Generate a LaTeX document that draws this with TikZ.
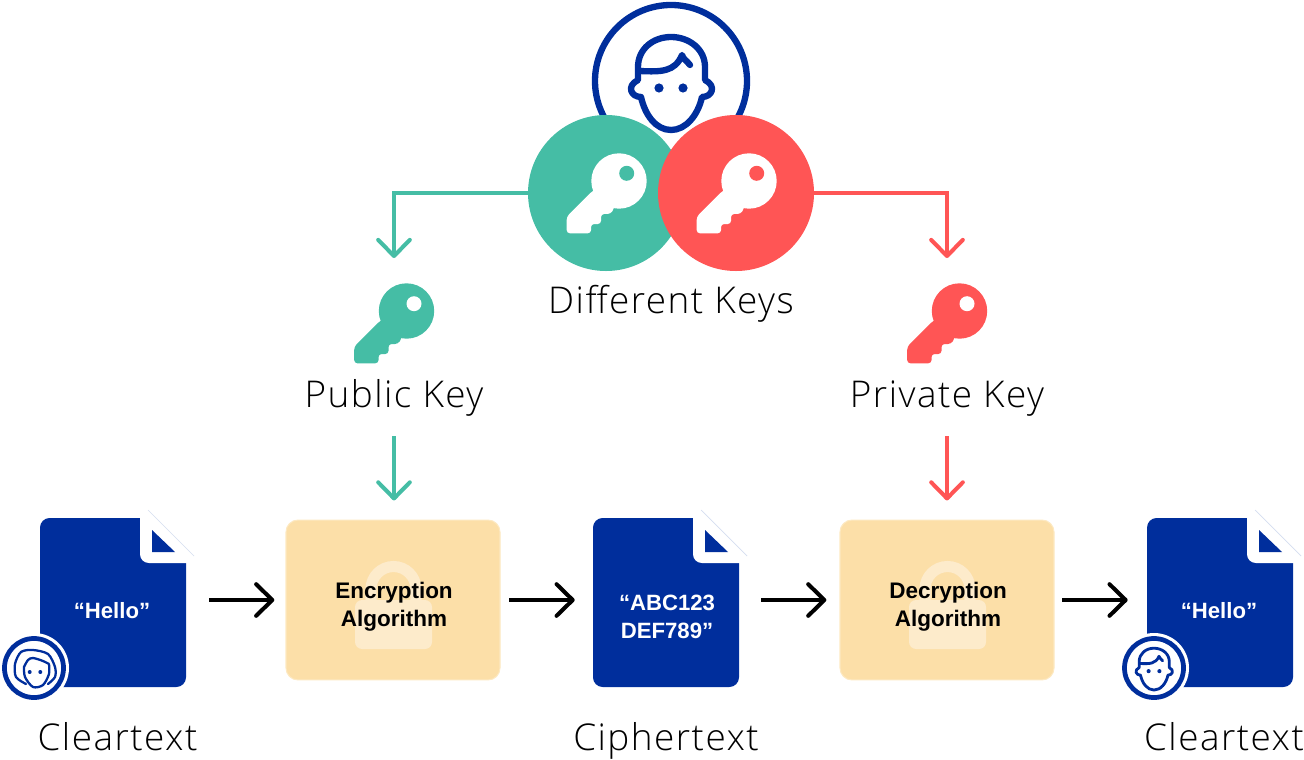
\documentclass[tikz,border=0pt]{standalone}
\usepackage{fontspec}
\setmainfont{Liberation Sans}
\newfontfamily\lblfont[LetterSpace=4]{Open Sans Light}
\usetikzlibrary{arrows.meta}
\definecolor{navy}{HTML}{002E9C}
\definecolor{teal}{HTML}{45BDA5}
\definecolor{coral}{HTML}{FF5555}
\definecolor{sand}{HTML}{FCDFA8}
\definecolor{sandlt}{HTML}{FDEBCB}
\definecolor{foldln}{HTML}{D5DDF0}
\pgfdeclarearrow{name=Chev,setup code={\pgfarrowssettipend{1.2pt}\pgfarrowssetlineend{0pt}\pgfarrowssavethe\pgfarrowlength},drawing code={\pgfsetdash{}{0pt}\pgfsetroundcap\pgfsetroundjoin\pgfpathmoveto{\pgfqpoint{-9.2pt}{9pt}}\pgfpathlineto{\pgfqpoint{0pt}{0pt}}\pgfpathlineto{\pgfqpoint{-9.2pt}{-9pt}}\pgfusepathqstroke},defaults={length=9pt}}
\tikzset{>=Chev,
flow/.style={line width=2.3pt,->},
lbl/.style={font=\lblfont\fontsize{21}{26}\selectfont,text height=19pt,text depth=4.6pt,inner sep=0pt,text=black},
algo/.style={fill=sand,draw=sand!70!white,line width=.6pt,rounded corners=6.8pt,minimum width=121.8pt,minimum height=91pt,inner sep=0pt},
doctxt/.style={font=\bfseries\fontsize{12.6}{16}\selectfont,text=white,align=center,inner sep=0pt},
docbox/.style={minimum width=83pt,minimum height=99pt,inner sep=0pt},
iconbox/.style={minimum width=46pt,minimum height=46pt,inner sep=0pt},
ring/.style={circle,fill=white,draw=navy,inner sep=0pt,line width=2.7pt,minimum size=33.6pt},
keydisc/.style={circle,inner sep=0pt,minimum size=88.8pt},
pics/keyshape/.style={code={
\fill[#1,rounded corners=1.8] (-26.3,9.7)--(-52.3,35.7)--(-52.3,52.3)--(-28,52.3)--(-28,43)--(-18,43)--(-18,33)--(-8.3,33)--(-5,27.3)--(0,0)--cycle;\fill[#1] (0,0) circle (27.7);}},
pics/boyface/.style={code={
\draw[navy,line width=#1,line join=round,line cap=round] (0,49)..controls (-15,49) and (-26,34)..(-30,16)..controls (-40,16) and (-45,5)..(-33,-1)--(-33,-14)..controls (-33,-32) and (-18,-44)..(0,-44)..controls (18,-44) and (34,-32)..(34,-14)--(34,-1)..controls (46,5) and (41,16)..(31,16)..controls (27,34) and (15,49)..(0,49)
(-31,-10)..controls (-10,-9) and (4,-9)..(11,-26)..controls (12,-22) and (16,-20)..(19,-16);
\fill[navy] (-12,7) circle (4.6) (12,7) circle (4.6);}},
pics/girlface/.style={code={
\draw[navy,line width=1.3pt,line cap=round,line join=round] plot[smooth] coordinates {(-8,16)(-18,9)(-19,-4)(-13,-16)(-1,-18)(14,-14)(21,-1)(21,9)(14,16)}
plot[smooth] coordinates {(-10,-1)(-9,9)(-1,19)(9,17)(15,6)(15,-4)}
plot[smooth] coordinates {(-10,-1)(-6,-8)(-1,-10)(9,-7)(15,-4)};
\fill[navy] (-4.3,4) circle (2) (6.3,4) circle (2);}}}
\begin{document}
\begin{tikzpicture}[x=.02cm,y=-.02cm]
\useasboundingbox (0,0) rectangle (1304,760);
\draw[navy,line width=3.6pt] (671,81) circle (76);
\pic at (671,81) {boyface=3.6pt};
\node[keydisc,fill=teal] (gdisc) at (606,193) {};\pic at (619,181) {keyshape=white};\fill[teal] (626.7,173.3) circle (7.5);
\node[keydisc,fill=coral] (rdisc) at (736,193) {};\pic at (749,181) {keyshape=white};\fill[coral] (756.7,173.3) circle (7.5);
\node[lbl] (diffl) at (671,301) {Different Keys};
% keys and their names
\foreach \n/\x/\c/\t in {pub/394/teal/Public Key,priv/947/coral/Private Key}{
\node[iconbox] (\n icon) at (\x,323.5) {};\pic at (\x+12.5,311) {keyshape=\c};\fill[white] (\x+20,303.7) circle (7.5);
\node[lbl] (\n lbl) at (\x,395) {\t};}
% the row
\foreach \n/\x/\u/\y/\t in {docA/40/72/611/“Hello”,docB/593/74/616.5/“ABC123\\DEF789”,docC/1147/72/611/“Hello”}{\begin{scope}[shift={(\x,0)}]
\fill[navy,rounded corners=5.5pt] (0,518) rectangle (146,687);
\fill[white,rounded corners=5pt] (100,510)--(100,563)--(160,563)--(160,510)--cycle;
\fill[navy] (112,530)--(112,552)--(135,552)--cycle;\draw[foldln,line width=.4pt] (108,510)--(154,556);
\node[docbox] (\n) at (73,600) {};\node[doctxt] (\n txt) at (\u,\y) {\t};\end{scope}}
\foreach \n/\x/\t in {boxA/393/Encryption\\Algorithm,boxB/947/Decryption\\Algorithm}{
\node[algo] (\n) at (\x,600) {};
\fill[sandlt,rounded corners=4pt] (\x-38,600) rectangle (\x+39,649);
\draw[sandlt,line width=6.3pt] (\x-22,605)--(\x-22,589) arc(180:360:22.5)--(\x+23,605);
\node[doctxt,text=black,font=\bfseries\fontsize{12.8}{16}\selectfont] (\n txt) at (\x+1,606.5) {\t};}
\fill[white] (34,668) circle (35) (1154,668) circle (35);
\node[ring] (ringA) at (34,668) {};\pic at (34,668) {girlface};
\node[ring] (ringB) at (1154,668) {};\pic[scale=.45] at (1154,668) {boyface=1.6pt};
\node[lbl] (clearA) at (117.5,738) {Cleartext};\node[lbl] (ciph) at (666,738) {Ciphertext};\node[lbl] (clearB) at (1224,738) {Cleartext};
% connectors
\draw[flow,teal,shorten >=14pt] (gdisc.west)-|(pubicon.north);
\draw[flow,coral,shorten >=14pt] (rdisc.east)-|(privicon.north);
\draw[flow,teal,shorten <=11.5pt,shorten >=10.8pt] (publbl.south)--(publbl.south|-boxA.north);
\draw[flow,coral,shorten <=11.5pt,shorten >=10.8pt] (privlbl.south)--(privlbl.south|-boxB.north);
\foreach \a/\b/\p/\q in {docA/boxA/13/6.3,boxA/docB/5/10.2,docB/boxB/12.5/7.4,boxB/docC/4.5/10.8}{\draw[flow,black,shorten <=\p pt,shorten >=\q pt] (\a)--(\b);}
\end{tikzpicture}
\end{document}
